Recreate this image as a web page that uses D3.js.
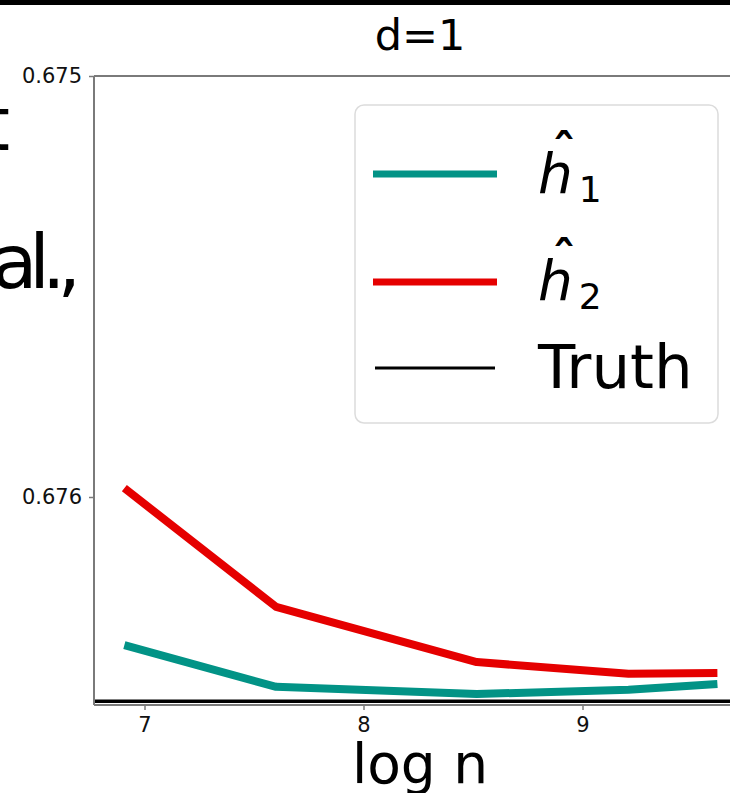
<!DOCTYPE html>
<html>
<head>
<meta charset="utf-8">
<script src="https://cdn.jsdelivr.net/npm/d3@7"></script>
<style>
  html, body { margin: 0; padding: 0; background: #fff; }
  svg { display: block; overflow: hidden; }
</style>
</head>
<body>
<div id="chart"></div>
<script>
// values
var logN = [6.908, 7.601, 8.517, 9.210, 9.616];
var h1Values = [0.676352, 0.676451, 0.676468, 0.676458, 0.676444];
var h2Values = [0.675979, 0.676261, 0.676392, 0.676420, 0.676418];
var truthValue = 0.676485;
var yTicks = [0.675, 0.676];
var xTicks = [7, 8, 9];

var tealColor = "#029386",
    redColor = "#e50000";

var width = 730, height = 793;

var svg = d3.select("#chart").append("svg")
  .attr("width", width)
  .attr("height", height);

// black bar at top of slide
svg.append("rect")
  .attr("x", 0).attr("y", 0)
  .attr("width", width).attr("height", 5)
  .style("fill", "#000");

// pieces of slide text behind the figure
svg.append("text")
  .attr("x", 10).attr("y", 150)
  .style("text-anchor", "end")
  .style("font-family", "DejaVu Sans")
  .style("font-size", "74px")
  .text("t");
svg.append("text")
  .attr("x", -8).attr("y", 288)
  .style("font-family", "DejaVu Sans")
  .style("font-size", "74px")
  .style("letter-spacing", "-8px")
  .text("al.,");

// scales
var x = d3.scaleLinear().domain([7, 9]).range([144.5, 582.5]);
var y = d3.scaleLinear().domain([0.675, 0.676]).range([76, 497]);

var plotLeft = 94, plotTop = 76, plotBottom = 705, plotRight = 760;

// title
svg.append("text")
  .attr("x", 420).attr("y", 50)
  .style("text-anchor", "middle")
  .style("font-family", "DejaVu Sans")
  .style("font-size", "43px")
  .text("d=1");

var plot = svg.append("g");

// truth line across the whole axes
plot.append("line")
  .attr("x1", plotLeft).attr("x2", plotRight)
  .attr("y1", y(truthValue)).attr("y2", y(truthValue))
  .style("stroke", "#000")
  .style("stroke-width", 3.5);

var line = d3.line()
  .x(function(d, i) { return x(logN[i]); })
  .y(function(d) { return d; });

plot.append("path")
  .datum(h2Values.map(function(v) { return y(v); }))
  .attr("d", line)
  .style("fill", "none")
  .style("stroke", redColor)
  .style("stroke-width", 8)
  .style("stroke-linejoin", "round");

plot.append("path")
  .datum(h1Values.map(function(v) { return y(v); }))
  .attr("d", line)
  .style("fill", "none")
  .style("stroke", tealColor)
  .style("stroke-width", 8)
  .style("stroke-linejoin", "round");

// spines
var spineColor = "#7a7a7a";
svg.append("line").attr("x1", plotLeft).attr("x2", plotRight).attr("y1", plotTop).attr("y2", plotTop)
  .style("stroke", spineColor).style("stroke-width", 2);
svg.append("line").attr("x1", plotLeft).attr("x2", plotLeft).attr("y1", plotTop).attr("y2", plotBottom)
  .style("stroke", spineColor).style("stroke-width", 2);
svg.append("line").attr("x1", plotLeft).attr("x2", plotRight).attr("y1", plotBottom).attr("y2", plotBottom)
  .style("stroke", spineColor).style("stroke-width", 2);

// axes
var yAxis = svg.append("g")
  .attr("transform", "translate(" + plotLeft + ",0)")
  .call(d3.axisLeft(y).tickValues(yTicks).tickFormat(d3.format(".3f")).tickSize(5).tickPadding(7));
var xAxis = svg.append("g")
  .attr("transform", "translate(0," + plotBottom + ")")
  .call(d3.axisBottom(x).tickValues(xTicks).tickFormat(d3.format("d")).tickSize(5).tickPadding(7));

[yAxis, xAxis].forEach(function(ax) {
  ax.select(".domain").remove();
  ax.selectAll(".tick line").style("stroke", spineColor).style("stroke-width", 1.5);
  ax.selectAll(".tick text")
    .style("font-family", "DejaVu Sans")
    .style("font-size", "21px")
    .style("fill", "#111");
});

// x label
svg.append("text")
  .attr("x", 420).attr("y", 783)
  .style("text-anchor", "middle")
  .style("font-family", "DejaVu Sans")
  .style("font-size", "55px")
  .text("log n");

// legend
var legend = svg.append("g");
legend.append("rect")
  .attr("x", 355).attr("y", 105)
  .attr("width", 363).attr("height", 318)
  .attr("rx", 9).attr("ry", 9)
  .style("fill", "#fff")
  .style("fill-opacity", 0.8)
  .style("stroke", "#dcdcdc")
  .style("stroke-width", 1.5);

var legendItems = [
  { color: tealColor, width: 7, ly: 174, sub: "1", base: 193 },
  { color: redColor, width: 7, ly: 282, sub: "2", base: 300 }
];

legendItems.forEach(function(d) {
  legend.append("line")
    .attr("x1", 373).attr("x2", 497)
    .attr("y1", d.ly).attr("y2", d.ly)
    .style("stroke", d.color)
    .style("stroke-width", d.width);
  var t = legend.append("text")
    .attr("x", 538).attr("y", d.base)
    .style("font-family", "DejaVu Sans")
    .style("font-size", "55px");
  t.append("tspan").style("font-style", "oblique").text("h");
  t.append("tspan").attr("dy", 9).attr("dx", 6).style("font-size", "36px").text(d.sub);
  legend.append("text")
    .attr("x", 564).attr("y", d.base - 24)
    .style("text-anchor", "middle")
    .style("font-family", "DejaVu Sans")
    .style("font-size", "48px")
    .style("font-weight", "bold")
    .text("\u02C6");
});

legend.append("line")
  .attr("x1", 375).attr("x2", 495)
  .attr("y1", 368).attr("y2", 368)
  .style("stroke", "#000")
  .style("stroke-width", 3);
legend.append("text")
  .attr("x", 538).attr("y", 388)
  .style("font-family", "DejaVu Sans")
  .style("font-size", "61px")
  .text("Truth");
</script>
</body>
</html>
